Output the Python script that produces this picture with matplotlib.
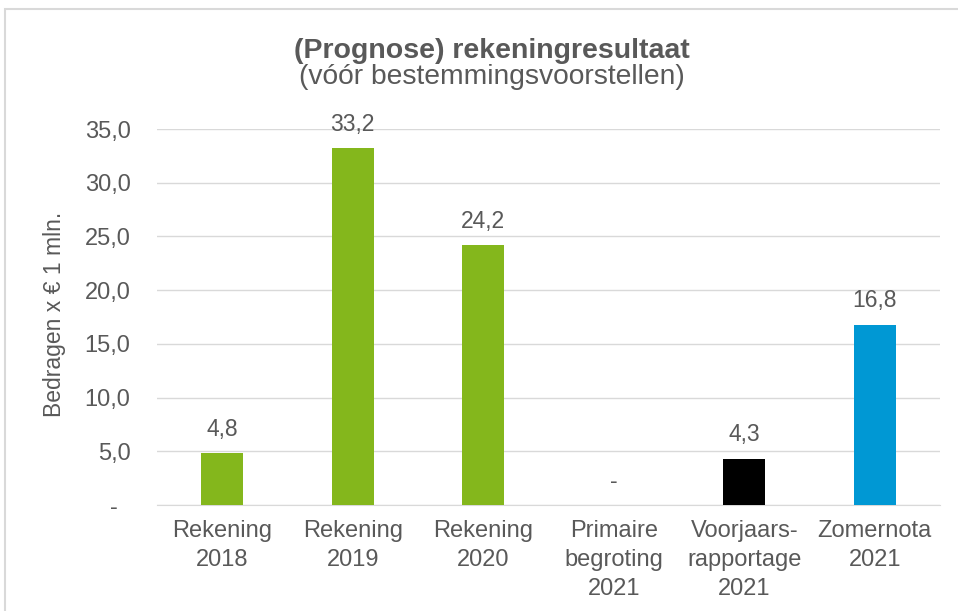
import matplotlib
matplotlib.use("Agg")
import matplotlib.pyplot as plt
from matplotlib.patches import Rectangle

categories = ["Rekening\n2018", "Rekening\n2019", "Rekening\n2020",
              "Primaire\nbegroting\n2021", "Voorjaars-\nrapportage\n2021", "Zomernota\n2021"]
values = [4.8, 33.2, 24.2, 0.0, 4.3, 16.8]
colors = ["#84B71C", "#84B71C", "#84B71C", "#84B71C", "#000000", "#0098D4"]
yticks = [0, 5, 10, 15, 20, 25, 30, 35]

plt.rcParams['font.family'] = ['Liberation Sans', 'DejaVu Sans']
TXT = "#595959"

def fmt(v):
    return "-" if v == 0 else f"{v:.1f}".replace(".", ",")

fig = plt.figure(figsize=(9.58, 6.11), dpi=100)
ax = fig.add_axes([157/958, 1-505/611, (940-157)/958, (505-129)/611])

x = range(len(categories))
ax.bar(x, values, width=0.32, color=colors, zorder=3)
for xi, v in zip(x, values):
    ax.annotate(fmt(v), (xi, v), xytext=(0, 12.5), textcoords="offset points",
                ha="center", va="baseline", fontsize=16.5, color=TXT)

ax.set_xlim(-0.5, len(categories) - 0.5)
ax.set_ylim(0, 35)
ax.set_yticks(yticks)
ax.set_yticklabels([("-  " if t == 0 else fmt(t)) for t in yticks], fontsize=17, color=TXT)
ax.set_xticks(list(x))
ax.set_xticklabels(categories, fontsize=17, color=TXT, linespacing=1.42)
ax.tick_params(axis="y", length=0, pad=19)
ax.tick_params(axis="x", length=0, pad=10.5)
ax.grid(axis="y", color="#D9D9D9", linewidth=1, zorder=0)
for s in ["top", "right", "left"]:
    ax.spines[s].set_visible(False)
ax.spines["bottom"].set_color("#D9D9D9")

fig.text(54/958, 1-314/611, "Bedragen x € 1 mln.", rotation=90, ha="center", va="center",
         fontsize=16.5, color=TXT)

fig.text(492/958, 1-58/611, "(Prognose) rekeningresultaat", ha="center", va="baseline",
         fontsize=20.5, fontweight="bold", color=TXT)
fig.text(492/958, 1-84/611, "(vóór bestemmingsvoorstellen)", ha="center", va="baseline",
         fontsize=20.3, color=TXT)

fig.patches.append(Rectangle((5/958, -0.1), 1.2, 1.1 - 9/611, transform=fig.transFigure,
                             fill=False, edgecolor="#D9D9D9", linewidth=1.5))

fig.savefig("out.png", dpi=100)
